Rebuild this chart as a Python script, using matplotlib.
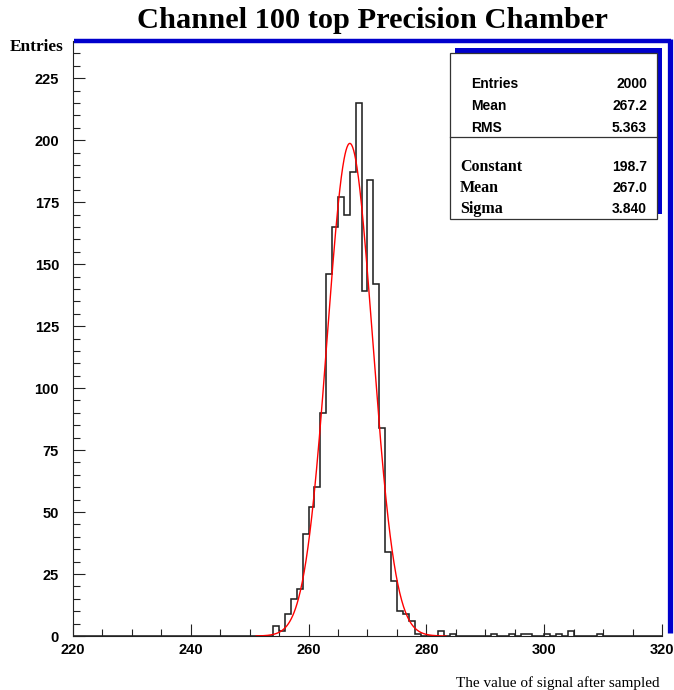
import numpy as np
import matplotlib
matplotlib.use("Agg")
import matplotlib.pyplot as plt
from matplotlib.patches import Rectangle
from matplotlib.lines import Line2D

# histogram bins (left edge, width 1) and their counts
bin_left = [254, 255, 256, 257, 258, 259, 260, 261, 262, 263, 264, 265, 266, 267,
            268, 269, 270, 271, 272, 273, 274, 275, 276, 277, 278, 282, 284, 291,
            294, 296, 297, 300, 302, 304, 309]
counts = [4, 2, 9, 15, 19, 41, 52, 60, 90, 146, 165, 177, 170, 187,
          215, 139, 184, 142, 84, 34, 22, 10, 9, 6, 1, 2, 1, 1,
          1, 1, 1, 1, 1, 2, 1]

# gaussian fit parameters shown in the stats box
fit_const = 198.7
fit_mean = 267.0
fit_sigma = 3.840
fit_range = [251.1, 283.3]

stat_labels = ["Entries", "Mean", "RMS"]
stat_values = ["2000", "267.2", "5.363"]
fit_labels = ["Constant", "Mean", "Sigma"]
fit_values = ["198.7", "267.0", "3.840"]

W, H = 674, 690
fig = plt.figure(figsize=(W / 100, H / 100), dpi=100)

def fx(px):
    return px / W

def fy(py):
    return 1 - py / H

ax = fig.add_axes([fx(73), fy(636), fx(662) - fx(73), fy(41) - fy(636)])

edges = np.arange(220, 321)
full = np.zeros(100)
for b, c in zip(bin_left, counts):
    full[b - 220] = c
ax.stairs(full, edges, color="#222222", lw=1.15)

xf = np.linspace(fit_range[0], fit_range[1], 400)
yf = fit_const * np.exp(-0.5 * ((xf - fit_mean) / fit_sigma) ** 2)
ax.plot(xf, yf, color="red", lw=1.0)

ax.set_xlim(220, 320)
ax.set_ylim(0, 240)
ax.set_xticks(np.arange(220, 321, 20))
ax.set_xticks(np.arange(220, 321, 5), minor=True)
ax.set_yticks(np.arange(0, 226, 25))
ax.set_yticks(np.arange(0, 240, 5), minor=True)
ax.tick_params(which="both", direction="in", width=0.8, color="#222222")
ax.tick_params(which="major", length=8.5)
ax.tick_params(which="minor", length=5)
ax.tick_params(axis="y", which="major", pad=10)
ax.tick_params(axis="x", which="major", pad=5)
for lab in ax.get_xticklabels() + ax.get_yticklabels():
    lab.set_fontfamily("Liberation Sans")
    lab.set_fontweight("bold")
    lab.set_fontsize(10.5)

for s in ["top", "right"]:
    ax.spines[s].set_visible(False)
for s in ["left", "bottom"]:
    ax.spines[s].set_color("#222222")
    ax.spines[s].set_linewidth(0.8)

# blue 3D frame on top and right
fig.add_artist(Line2D([fx(74), fx(671)], [fy(41), fy(41)], color="#0000cc", lw=3.2,
                      solid_capstyle="butt", transform=fig.transFigure))
fig.add_artist(Line2D([fx(669.5), fx(669.5)], [fy(39), fy(633)], color="#0000cc", lw=3.8,
                      solid_capstyle="butt", transform=fig.transFigure))

# stats box with blue shadow
fig.add_artist(Rectangle((fx(455), fy(214)), fx(662) - fx(455), fy(48) - fy(214),
                         facecolor="#0000cc", edgecolor="none", transform=fig.transFigure))
fig.add_artist(Rectangle((fx(450), fy(219)), fx(657) - fx(450), fy(53) - fy(219),
                         facecolor="white", edgecolor="#333333", lw=0.9, transform=fig.transFigure))
fig.add_artist(Line2D([fx(450), fx(657)], [fy(137), fy(137)], color="#333333", lw=0.9,
                      transform=fig.transFigure))

for i, (lab, val) in enumerate(zip(stat_labels, stat_values)):
    y = fy(84 + 22 * i)
    fig.text(fx(471), y, lab, ha="left", va="center", fontsize=10,
             fontweight="bold", family="Liberation Sans")
    fig.text(fx(647), y, val, ha="right", va="center", fontsize=10,
             fontweight="bold", family="Liberation Sans")
for i, (lab, val) in enumerate(zip(fit_labels, fit_values)):
    y = fy(167 + 21 * i)
    fig.text(fx(460), y, lab, ha="left", va="center", fontsize=11.5,
             fontweight="bold", family="Liberation Serif")
    fig.text(fx(647), y, val, ha="right", va="center", fontsize=10,
             fontweight="bold", family="Liberation Sans")

fig.text(fx(372), fy(20), "Channel 100 top Precision Chamber", ha="center", va="center",
         fontsize=21.9, fontweight="bold", family="Liberation Serif")
fig.text(fx(10), fy(47), "Entries", ha="left", va="center", fontsize=12.4,
         fontweight="bold", family="Liberation Serif")
fig.text(fx(660), fy(683), "The value of signal after sampled", ha="right", va="center",
         fontsize=11, family="Liberation Serif")

fig.savefig("out.png", dpi=100)
